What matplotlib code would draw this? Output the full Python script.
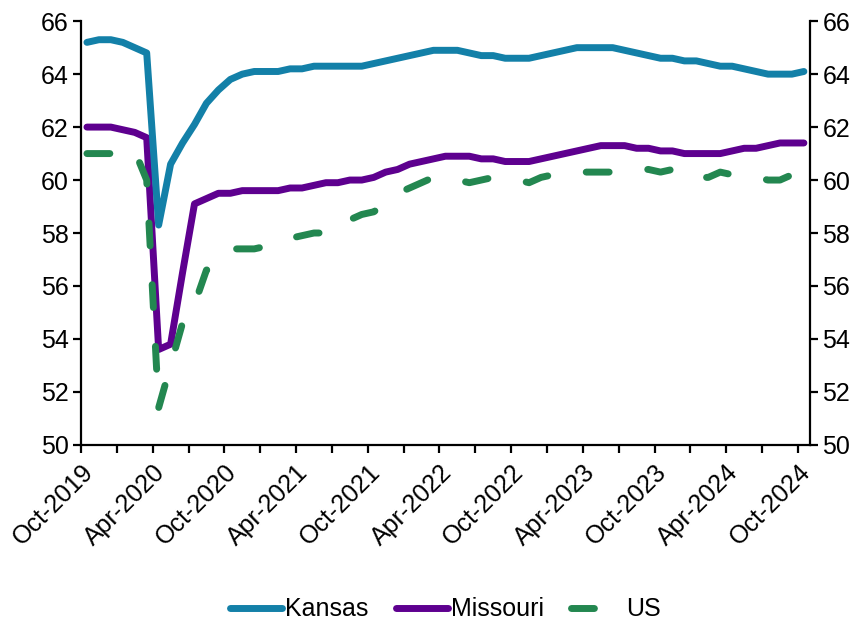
import numpy as np
import matplotlib
matplotlib.use("Agg")
from matplotlib import pyplot as plt

# Monthly values, Oct-2019 .. Oct-2024 (61 months)
kansas = [65.2, 65.3, 65.3, 65.2, 65.0, 64.8, 58.3, 60.6, 61.4, 62.1,
          62.9, 63.4, 63.8, 64.0, 64.1, 64.1, 64.1, 64.2, 64.2, 64.3,
          64.3, 64.3, 64.3, 64.3, 64.4, 64.5, 64.6, 64.7, 64.8, 64.9,
          64.9, 64.9, 64.8, 64.7, 64.7, 64.6, 64.6, 64.6, 64.7, 64.8,
          64.9, 65.0, 65.0, 65.0, 65.0, 64.9, 64.8, 64.7, 64.6, 64.6,
          64.5, 64.5, 64.4, 64.3, 64.3, 64.2, 64.1, 64.0, 64.0, 64.0,
          64.1]
missouri = [62.0, 62.0, 62.0, 61.9, 61.8, 61.6, 53.6, 53.8, 56.5, 59.1,
            59.3, 59.5, 59.5, 59.6, 59.6, 59.6, 59.6, 59.7, 59.7, 59.8,
            59.9, 59.9, 60.0, 60.0, 60.1, 60.3, 60.4, 60.6, 60.7, 60.8,
            60.9, 60.9, 60.9, 60.8, 60.8, 60.7, 60.7, 60.7, 60.8, 60.9,
            61.0, 61.1, 61.2, 61.3, 61.3, 61.3, 61.2, 61.2, 61.1, 61.1,
            61.0, 61.0, 61.0, 61.0, 61.1, 61.2, 61.2, 61.3, 61.4, 61.4,
            61.4]
us = [61.0, 61.0, 61.0, 61.2, 61.1, 60.0, 51.4, 53.0, 54.6, 55.3,
      56.6, 56.8, 57.4, 57.4, 57.4, 57.5, 57.6, 57.8, 57.9, 58.0,
      58.0, 58.4, 58.5, 58.7, 58.8, 59.1, 59.5, 59.7, 59.9, 60.1,
      60.0, 60.0, 59.9, 60.0, 60.1, 60.1, 60.0, 59.9, 60.1, 60.2,
      60.2, 60.3, 60.3, 60.3, 60.3, 60.4, 60.4, 60.4, 60.3, 60.4,
      60.1, 60.1, 60.1, 60.3, 60.2, 60.1, 60.1, 60.0, 60.0, 60.2,
      60.0]
tick_labels = ["Oct-2019", "Apr-2020", "Oct-2020", "Apr-2021", "Oct-2021",
               "Apr-2022", "Oct-2022", "Apr-2023", "Oct-2023", "Apr-2024",
               "Oct-2024"]
y_ticks = [50, 52, 54, 56, 58, 60, 62, 64, 66]

plt.rcParams["font.family"] = ["Liberation Sans", "DejaVu Sans"]
fsize = 18

x = np.arange(len(kansas)) + 0.5

fig = plt.figure(figsize=(8.67, 6.23), dpi=100)
ax = fig.add_axes([0.0934, 0.286, 0.8407, 0.680])

lw = 5.0
ax.plot(x, missouri, color="#5E008F", lw=lw, solid_capstyle="round",
        solid_joinstyle="round", label="Missouri", zorder=2)
ax.plot(x, kansas, color="#1380A8", lw=lw, solid_capstyle="round",
        solid_joinstyle="round", label="Kansas", zorder=3)
ax.plot(x, us, color="#238750", lw=lw, dashes=(3.3, 5.6),
        dash_capstyle="round", dash_joinstyle="round", label="US", zorder=4)

ax.set_xlim(0, 61)
ax.set_ylim(50, 66)
ax.set_yticks(y_ticks)
ax.set_xticks(np.arange(0, 61, 6))
ax.set_xticks(np.arange(3, 61, 6), minor=True)
ax.set_xticklabels(tick_labels, rotation=45, ha="right", va="top",
                   rotation_mode="anchor")

ax.spines["top"].set_visible(False)
for s in ["left", "right", "bottom"]:
  ax.spines[s].set_linewidth(1.6)
ax.yaxis.set_ticks_position("both")
ax.tick_params(axis="y", which="both", direction="out", length=6, width=1.6,
               labelsize=fsize, labelright=True, pad=3)
ax.tick_params(axis="x", which="both", direction="out", length=6, width=1.6,
               labelsize=fsize, pad=5)

handles, labels = ax.get_legend_handles_labels()
order = [labels.index("Kansas"), labels.index("Missouri"), labels.index("US")]
ax.legend([handles[i] for i in order], [labels[i] for i in order],
          loc="lower center", bbox_to_anchor=(0.5, -0.47), ncol=3,
          frameon=False, fontsize=fsize, handlelength=2.1, handletextpad=0.1,
          columnspacing=1.1)

fig.savefig("out.png", dpi=100)
